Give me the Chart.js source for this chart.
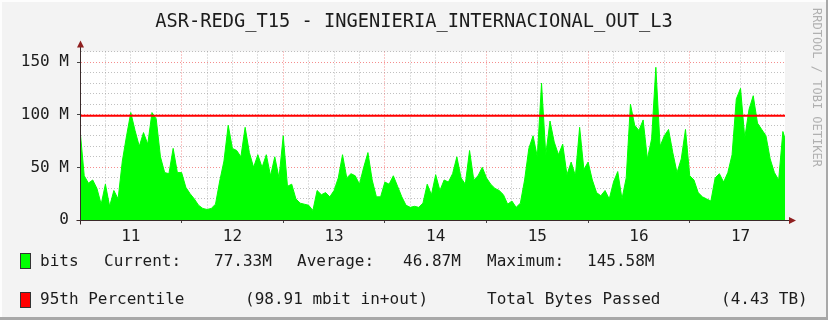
<!DOCTYPE html>
<html>
<head>
<meta charset="utf-8">
<script src="https://cdn.jsdelivr.net/npm/chart.js@4/dist/chart.umd.min.js"></script>
<style>
html,body{margin:0;padding:0;background:#f3f3f3;}
#wrap{width:828px;height:320px;position:relative;}
canvas{display:block;}
</style>
</head>
<body>
<div id="wrap"><canvas id="c" width="828" height="320"></canvas></div>
<script>
// ---------- DATA ----------
const chartTitle = 'ASR-REDG_T15 - INGENIERIA_INTERNACIONAL_OUT_L3';
const dayLabels = ['11', '12', '13', '14', '15', '16', '17'];
// traffic in Mbit/s, one sample per hour from day 11 00:00
const bitsDay11 = [86,42,35,38,30,15,34,13,28,20,56,80,102,85,70,83,72,102,96,60,45,44,68,45];
const bitsDay12 = [45,31,25,20,14,11,10,11,15,37,56,90,68,66,60,88,64,50,62,50,62,42,60,40];
const bitsDay13 = [80,32,34,20,16,15,14,9,28,24,26,22,28,40,62,40,44,42,34,50,64,38,22,22];
const bitsDay14 = [36,34,42,32,22,14,12,13,12,16,34,24,43,28,38,36,44,60,40,34,66,38,42,50];
const bitsDay15 = [40,34,30,28,24,15,18,12,16,38,68,80,60,130,62,94,74,62,72,43,55,42,88,48];
const bitsDay16 = [55,38,26,23,28,20,36,46,20,40,110,90,85,95,58,77,145,70,80,86,64,45,58,86];
const bitsDay17 = [42,38,26,22,20,18,40,44,36,45,62,115,125,78,105,118,92,86,80,58,45,38,84];
const lastSampleHour = 166.5;
const currentM = 77.33;
const averageM = 46.87;
const maximumM = 145.58;
const percentile95M = 98.91;
const totalTB = 4.43;
const yMaxM = 160;
const yTickValues = [0,10,20,30,40,50,60,70,80,90,100,110,120,130,140,150,160];
const yTickLabels = {0: '0', 50: '50 M', 100: '100 M', 150: '150 M'};
const xTickHours = [0,6,12,18,24,30,36,42,48,54,60,66,72,78,84,90,96,102,108,114,120,126,132,138,144,150,156,162];
const legendRow1 = ['bits', 'Current:', currentM.toFixed(2) + 'M', 'Average:', averageM.toFixed(2) + 'M', 'Maximum:', maximumM.toFixed(2) + 'M'];
const legendRow2 = ['95th Percentile', '(' + percentile95M.toFixed(2) + ' mbit in+out)', 'Total Bytes Passed', '(' + totalTB.toFixed(2) + ' TB)'];
const watermark = 'RRDTOOL / TOBI OETIKER';

// ---------- BUILD ----------
const bitsM = [].concat(bitsDay11, bitsDay12, bitsDay13, bitsDay14, bitsDay15, bitsDay16, bitsDay17);
const bitsPoints = bitsM.map((v, i) => ({x: i, y: v}));
bitsPoints.push({x: lastSampleHour, y: currentM});

const MONO = '"DejaVu Sans Mono", "Liberation Mono", monospace';
const TEXT = '#1c1c1c';
const MAJOR = 'rgba(240,80,80,0.65)';
const MINOR = 'rgba(140,140,140,0.55)';

const decor = {
  id: 'decor',
  beforeDraw(chart) {
    const {ctx, chartArea: a, width, height} = chart;
    ctx.save();
    ctx.fillStyle = '#f3f3f3';
    ctx.fillRect(0, 0, width, height);
    ctx.fillStyle = '#ffffff';
    ctx.fillRect(a.left, a.top, a.right - a.left, a.bottom - a.top);
    ctx.fillStyle = '#fdfdfd';
    ctx.fillRect(0, 0, width, 2);
    ctx.fillRect(0, 0, 2, height);
    ctx.fillStyle = '#a8a8a8';
    ctx.fillRect(width - 2, 0, 2, height);
    ctx.fillRect(0, height - 3, width, 3);
    ctx.restore();
  },
  afterDraw(chart) {
    const {ctx} = chart;
    const xs = chart.scales.x, ys = chart.scales.y;
    const left = Math.round(xs.getPixelForValue(0)) + 0.5;
    const right = xs.getPixelForValue(lastSampleHour);
    const bottom = Math.round(ys.getPixelForValue(0)) + 0.5;
    const top = ys.getPixelForValue(yMaxM);
    ctx.save();
    // axis extensions + arrows
    ctx.strokeStyle = '#3a2a2a';
    ctx.lineWidth = 1;
    ctx.beginPath();
    ctx.moveTo(left, top); ctx.lineTo(left, top - 6);
    ctx.moveTo(right, bottom); ctx.lineTo(right + 6, bottom);
    ctx.moveTo(left - 4, bottom); ctx.lineTo(left, bottom);
    ctx.moveTo(left, bottom); ctx.lineTo(left, bottom + 4);
    ctx.stroke();
    ctx.fillStyle = '#8f1f1f';
    ctx.beginPath();
    ctx.moveTo(left, top - 11); ctx.lineTo(left - 3.5, top - 4); ctx.lineTo(left + 3.5, top - 4); ctx.closePath();
    ctx.fill();
    ctx.beginPath();
    ctx.moveTo(right + 11, bottom); ctx.lineTo(right + 4, bottom - 3.5); ctx.lineTo(right + 4, bottom + 3.5); ctx.closePath();
    ctx.fill();

    // legend
    ctx.font = '16px ' + MONO;
    ctx.textBaseline = 'middle';
    ctx.textAlign = 'left';
    ctx.fillStyle = '#00ff00';
    ctx.fillRect(20, 253, 10, 15);
    ctx.strokeStyle = '#333';
    ctx.strokeRect(20.5, 253.5, 10, 15);
    ctx.fillStyle = '#ff0000';
    ctx.fillRect(20, 292, 10, 15);
    ctx.strokeRect(20.5, 292.5, 10, 15);
    ctx.fillStyle = TEXT;
    const x1 = [40, 104, 214, 297, 403, 487, 587];
    legendRow1.forEach((t, i) => ctx.fillText(t, x1[i], 262));
    const x2 = [40, 245, 487, 721];
    legendRow2.forEach((t, i) => ctx.fillText(t, x2[i], 300));

    // watermark
    ctx.translate(816, 8);
    ctx.rotate(Math.PI / 2);
    ctx.font = '12px ' + MONO;
    ctx.fillStyle = '#b0b0b0';
    ctx.textBaseline = 'middle';
    ctx.fillText(watermark, 0, 0);
    ctx.restore();
  }
};

new Chart(document.getElementById('c'), {
  type: 'line',
  data: {
    datasets: [
      {
        label: '95th Percentile',
        data: [{x: 0, y: percentile95M}, {x: lastSampleHour, y: percentile95M}],
        borderColor: '#ff0000',
        borderWidth: 2,
        pointRadius: 0,
        fill: false,
        order: 1
      },
      {
        label: 'bits',
        data: bitsPoints,
        borderColor: '#00ff00',
        backgroundColor: '#00ff00',
        borderWidth: 1,
        pointRadius: 0,
        tension: 0,
        fill: 'origin',
        order: 2
      }
    ]
  },
  options: {
    responsive: false,
    animation: false,
    devicePixelRatio: 1,
    layout: {padding: 0},
    plugins: {
      legend: {display: false},
      tooltip: {enabled: false},
      title: {
        display: true,
        text: chartTitle,
        color: TEXT,
        font: {family: MONO, size: 18.7, weight: 'normal', lineHeight: 1.2},
        padding: {top: 10.5, bottom: 18.56}
      }
    },
    scales: {
      x: {
        type: 'linear',
        min: 0,
        max: lastSampleHour,
        afterBuildTicks: s => { s.ticks = xTickHours.map(v => ({value: v})); },
        afterFit: s => { s.height = 100; },
        grid: {
          color: c => (c.tick && c.tick.value % 24 === 0) ? MAJOR : MINOR,
          tickColor: c => (c.tick && c.tick.value % 24 === 0) ? '#444' : 'rgba(0,0,0,0)',
          tickLength: 3,
          tickBorderDash: []
        },
        border: {display: true, color: '#3a2a2a', width: 1, dash: [1, 2], z: 1},
        ticks: {
          autoSkip: false,
          maxRotation: 0,
          padding: 4,
          color: TEXT,
          font: {family: MONO, size: 16},
          callback: v => (v % 24 === 12) ? dayLabels[(v - 12) / 24] : ''
        }
      },
      y: {
        type: 'linear',
        position: 'left',
        min: 0,
        max: yMaxM,
        afterBuildTicks: s => { s.ticks = yTickValues.map(v => ({value: v})); },
        afterFit: s => { s.width = 80; },
        grid: {
          color: c => (c.tick && c.tick.value % 50 === 0) ? MAJOR : MINOR,
          tickColor: c => (c.tick && c.tick.value % 50 === 0) ? '#444' : 'rgba(0,0,0,0)',
          tickLength: 3,
          tickBorderDash: []
        },
        border: {display: true, color: '#3a2a2a', width: 1, dash: [1, 2], z: 1},
        ticks: {
          autoSkip: false,
          padding: 8,
          color: TEXT,
          font: {family: MONO, size: 16},
          callback: v => (yTickLabels[v] !== undefined ? yTickLabels[v] : '')
        }
      },
      yPad: {
        type: 'linear',
        position: 'right',
        min: 0,
        max: 1,
        display: true,
        grid: {display: false},
        border: {display: false},
        ticks: {display: false},
        afterFit: s => { s.width = 43; }
      }
    }
  },
  plugins: [decor]
});
</script>
</body>
</html>
